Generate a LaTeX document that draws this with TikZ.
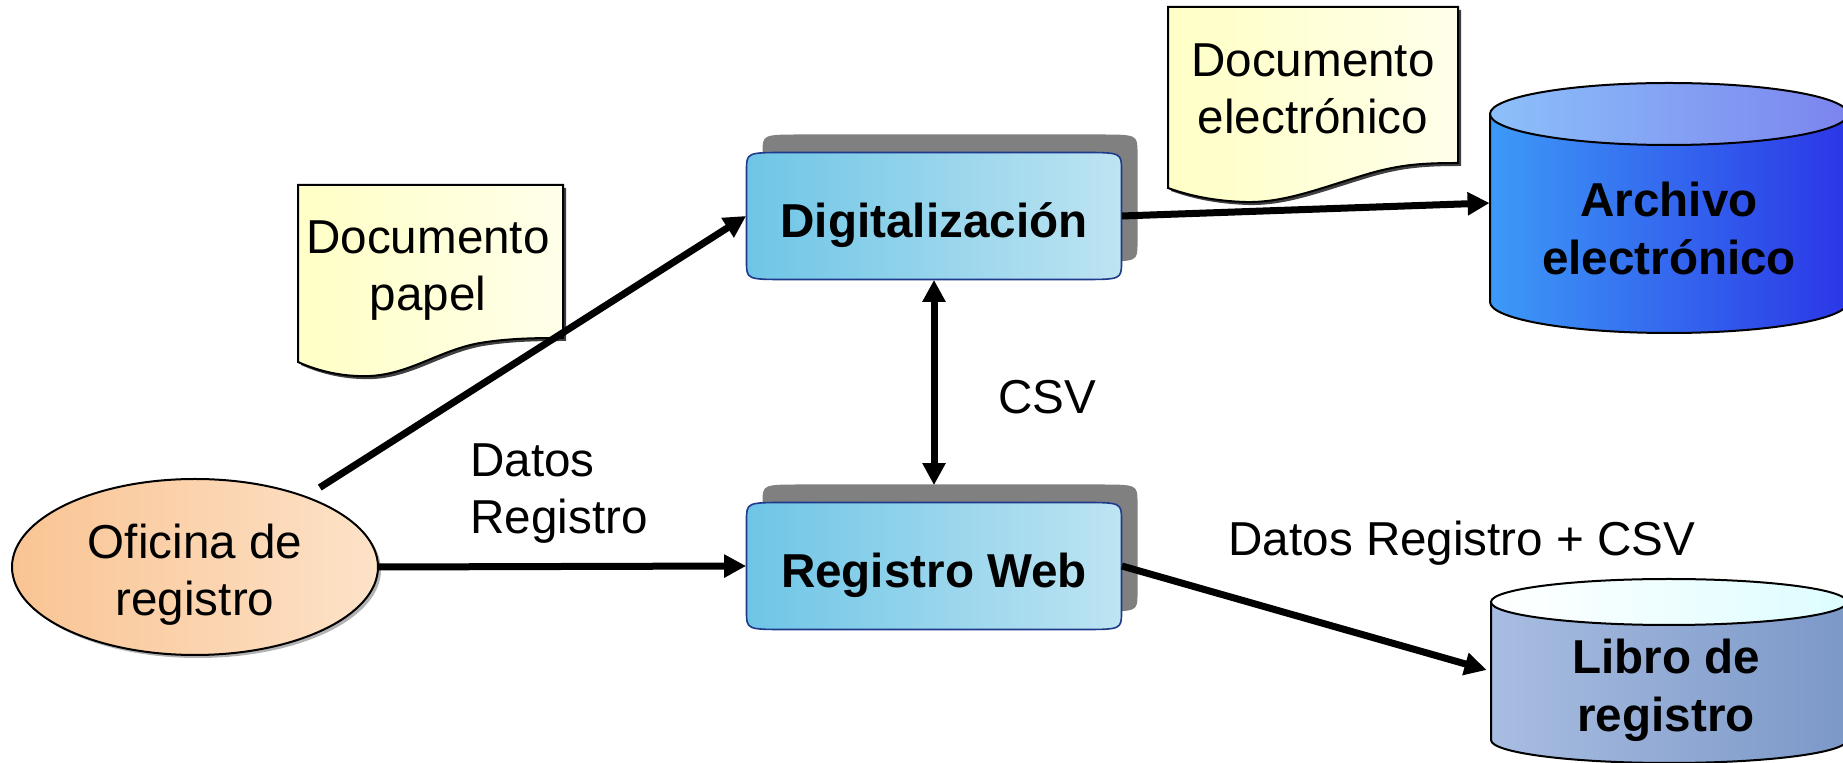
\documentclass[tikz,border=0pt]{standalone}
\usepackage{fontspec}
\setmainfont{Liberation Sans}
\usetikzlibrary{shapes.geometric,arrows.meta,shadows}

\definecolor{procizq}{HTML}{6EC5E6}
\definecolor{procder}{HTML}{BEE4F2}
\definecolor{procborde}{HTML}{1F3A8A}
\definecolor{papelA}{HTML}{FFFFC6}
\definecolor{papelB}{HTML}{FFFFEA}
\definecolor{ofiA}{HTML}{F9C493}
\definecolor{ofiB}{HTML}{FDE2C8}
\definecolor{archA}{HTML}{3D9AF7}
\definecolor{archB}{HTML}{2B36E6}
\definecolor{tapaA}{HTML}{8CC0FA}
\definecolor{tapaB}{HTML}{7C84EE}
\definecolor{libroA}{HTML}{A8BDE1}
\definecolor{libroB}{HTML}{7C98C8}
\definecolor{libroT}{HTML}{DDFDFF}

\tikzset{
	texto/.style={font=\fontsize{23.8}{28.5}\selectfont, align=center, inner sep=0pt},
	negrita/.style={font=\bfseries\fontsize{23.8}{29}\selectfont, align=center, inner sep=0pt},
	proceso/.style={negrita, minimum width=187.5pt, minimum height=63.5pt},
	almacen/.style={negrita, minimum width=179pt},
	oficina/.style={texto, ellipse, draw, line width=1pt,
		minimum width=183pt, minimum height=88pt,
		left color=ofiA, right color=ofiB,
		drop shadow={shadow xshift=1.5pt, shadow yshift=-1.5pt, fill=black!60}},
	flecha/.style={line width=3.5pt, -{Triangle[length=11pt,width=11pt]}},
	doble/.style={line width=3.5pt, {Triangle[length=11pt,width=11pt]}-{Triangle[length=11pt,width=11pt]}}
}

% caja de proceso con sombra: nombre, x, y, texto
\newcommand{\Proceso}[4]{%
	\fill[gray, shift={(#2+16,#3-18)}]
		(-187.5,-45.5) .. controls (-187.5,-63.5) .. (-147.5,-63.5) -- (147.5,-63.5)
		.. controls (187.5,-63.5) .. (187.5,-45.5) -- (187.5,45.5)
		.. controls (187.5,63.5) .. (147.5,63.5) -- (-147.5,63.5)
		.. controls (-187.5,63.5) .. (-187.5,45.5) -- cycle;
	\shade[left color=procizq, right color=procder, draw=procborde, line width=0.8pt, shift={(#2,#3)}]
		(-187.5,-45.5) .. controls (-187.5,-63.5) .. (-147.5,-63.5) -- (147.5,-63.5)
		.. controls (187.5,-63.5) .. (187.5,-45.5) -- (187.5,45.5)
		.. controls (187.5,63.5) .. (147.5,63.5) -- (-147.5,63.5)
		.. controls (-187.5,63.5) .. (-187.5,45.5) -- cycle;
	\node[proceso] (#1) at (#2,#3) {\raisebox{-4.5pt}[\height][\depth]{#4}};
}

\begin{document}
\begin{tikzpicture}[x=0.5pt,y=-0.5pt]
	\useasboundingbox (0,0) rectangle (1843,763);
	\clip (0,0) rectangle (1843,763);
	
	% documentos
	\fill[black!75, shift={(3,3)}] (298,185) -- (563,185) -- (563,338)
		.. controls (540,338) and (510,338) .. (480,343)
		.. controls (440,350) and (410,374) .. (370,376)
		.. controls (345,377) and (320,372) .. (298,362) -- cycle;
	\shade[left color=papelA, right color=papelB, draw=black, line width=1pt]
		(298,185) -- (563,185) -- (563,338)
		.. controls (540,338) and (510,338) .. (480,343)
		.. controls (440,350) and (410,374) .. (370,376)
		.. controls (345,377) and (320,372) .. (298,362) -- cycle;
	\node[texto] (papel) at (428,271) {Documento\\papel};
	
	\fill[black!75, shift={(3,3)}] (1168,7) -- (1458,7) -- (1458,163)
		.. controls (1420,163) and (1400,165) .. (1371,173)
		.. controls (1320,188) and (1285,203) .. (1245,202)
		.. controls (1215,201) and (1190,196) .. (1168,188) -- cycle;
	\shade[left color=papelA, right color=papelB, draw=black, line width=1pt]
		(1168,7) -- (1458,7) -- (1458,163)
		.. controls (1420,163) and (1400,165) .. (1371,173)
		.. controls (1320,188) and (1285,203) .. (1245,202)
		.. controls (1215,201) and (1190,196) .. (1168,188) -- cycle;
	\node[texto] (electronico) at (1313,89) {Documento\\electrónico};
	
	% procesos
	\Proceso{dig}{934}{216}{Digitalización}
	\Proceso{reg}{934}{566}{Registro Web}
	
	% almacenes
	\shade[left color=archA, right color=archB, draw=black, line width=1pt]
		(1490,114) -- (1490,302) .. controls (1490,319.1) and (1570.1,333) .. (1669,333)
		.. controls (1767.9,333) and (1848,319.1) .. (1848,302) -- (1848,114) -- cycle;
	\shade[left color=tapaA, right color=tapaB, draw=black, line width=1pt]
		(1669,114) ellipse [x radius=89.5pt, y radius=15.5pt];
	\node[almacen] (archivo) at (1669,228) {Archivo\\electrónico};
	
	\shade[left color=libroA, right color=libroB, draw=black, line width=1pt]
		(1491,602) -- (1491,740) .. controls (1491,752.7) and (1570.1,763) .. (1669,763)
		.. controls (1767.9,763) and (1847,752.7) .. (1847,740) -- (1847,602) -- cycle;
	\shade[left color=white, right color=libroT, draw=black, line width=1pt]
		(1669,602) ellipse [x radius=89pt, y radius=11.5pt];
	\node[almacen] (libro) at (1666,690) {Libro de\\registro};
	
	% oficina
	\node[oficina] (ofi) at (195,567) {\rule{0pt}{24.5pt}Oficina de\\registro};
	
	% flechas
	\draw[flecha, shorten <=8pt] (ofi) -- (dig.west);
	\draw[flecha] (ofi.east) -- (reg.west);
	\draw[flecha] (dig.east) -- ([yshift=12.5pt]archivo.west);
	\draw[flecha] (reg.east) -- ([yshift=10pt]libro.west);
	\draw[doble] (dig.south) -- ([yshift=8.5pt]reg.north);
	
	% etiquetas
	\node[texto, anchor=west, align=left] (datos) at (470,494) {Datos\\Registro};
	\node[texto] (csv) at (1047,397) {CSV};
	\node[texto] (datoscsv) at (1462,543) {Datos Registro + CSV};
\end{tikzpicture}
\end{document}
